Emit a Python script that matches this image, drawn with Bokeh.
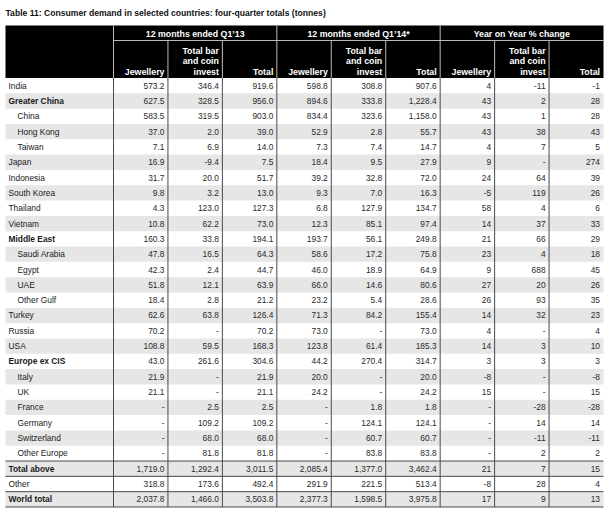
from bokeh.plotting import figure
from bokeh.models import ColumnDataSource, Range1d
from bokeh.core.properties import value
from bokeh.embed import file_html
from bokeh.resources import INLINE

title = "Table 11: Consumer demand in selected countries: four-quarter totals (tonnes)"
groups = ["12 months ended Q1\u201913", "12 months ended Q1\u201914*", "Year on Year % change"]
subheads = ["Jewellery", "Total bar\nand coin\ninvest", "Total"]

labels = ["India", "Greater China", "China", "Hong Kong", "Taiwan", "Japan", "Indonesia",
          "South Korea", "Thailand", "Vietnam", "Middle East", "Saudi Arabia", "Egypt", "UAE",
          "Other Gulf", "Turkey", "Russia", "USA", "Europe ex CIS", "Italy", "UK", "France",
          "Germany", "Switzerland", "Other Europe", "Total above", "Other", "World total"]
bold_rows = ["Greater China", "Middle East", "Europe ex CIS", "Total above", "World total"]
indented_rows = ["China", "Hong Kong", "Taiwan", "Saudi Arabia", "Egypt", "UAE", "Other Gulf",
                 "Italy", "UK", "France", "Germany", "Switzerland", "Other Europe"]

N = None
jewellery_13 = [573.2, 627.5, 583.5, 37.0, 7.1, 16.9, 31.7, 9.8, 4.3, 10.8, 160.3, 47.8, 42.3, 51.8,
                18.4, 62.6, 70.2, 108.8, 43.0, 21.9, 21.1, N, N, N, N, 1719.0, 318.8, 2037.8]
barcoin_13 = [346.4, 328.5, 319.5, 2.0, 6.9, -9.4, 20.0, 3.2, 123.0, 62.2, 33.8, 16.5, 2.4, 12.1,
              2.8, 63.8, N, 59.5, 261.6, N, N, 2.5, 109.2, 68.0, 81.8, 1292.4, 173.6, 1466.0]
total_13 = [919.6, 956.0, 903.0, 39.0, 14.0, 7.5, 51.7, 13.0, 127.3, 73.0, 194.1, 64.3, 44.7, 63.9,
            21.2, 126.4, 70.2, 168.3, 304.6, 21.9, 21.1, 2.5, 109.2, 68.0, 81.8, 3011.5, 492.4, 3503.8]
jewellery_14 = [598.8, 894.6, 834.4, 52.9, 7.3, 18.4, 39.2, 9.3, 6.8, 12.3, 193.7, 58.6, 46.0, 66.0,
                23.2, 71.3, 73.0, 123.8, 44.2, 20.0, 24.2, N, N, N, N, 2085.4, 291.9, 2377.3]
barcoin_14 = [308.8, 333.8, 323.6, 2.8, 7.4, 9.5, 32.8, 7.0, 127.9, 85.1, 56.1, 17.2, 18.9, 14.6,
              5.4, 84.2, N, 61.4, 270.4, N, N, 1.8, 124.1, 60.7, 83.8, 1377.0, 221.5, 1598.5]
total_14 = [907.6, 1228.4, 1158.0, 55.7, 14.7, 27.9, 72.0, 16.3, 134.7, 97.4, 249.8, 75.8, 64.9, 80.6,
            28.6, 155.4, 73.0, 185.3, 314.7, 20.0, 24.2, 1.8, 124.1, 60.7, 83.8, 3462.4, 513.4, 3975.8]
jewellery_chg = [4, 43, 43, 43, 4, 9, 24, -5, 58, 14, 21, 23, 9, 27, 26, 14, 4, 14, 3, -8, 15,
                 N, N, N, N, 21, -8, 17]
barcoin_chg = [-11, 2, 1, 38, 7, N, 64, 119, 4, 37, 66, 4, 688, 20, 93, 32, N, 3, 3, N, N,
               -28, 14, -11, 2, 7, 28, 9]
total_chg = [-1, 28, 28, 43, 5, 274, 39, 26, 6, 33, 29, 18, 45, 26, 35, 23, 4, 10, 3, -8, 15,
             -28, 14, -11, 2, 15, 4, 13]

FONT = value("Liberation Sans")

def fmt_t(v):
    return "-" if v is None else f"{v:,.1f}"

def fmt_p(v):
    return "-" if v is None else f"{v:d}"

columns = [(jewellery_13, fmt_t), (barcoin_13, fmt_t), (total_13, fmt_t),
           (jewellery_14, fmt_t), (barcoin_14, fmt_t), (total_14, fmt_t),
           (jewellery_chg, fmt_p), (barcoin_chg, fmt_p), (total_chg, fmt_p)]

# layout (table coordinates)
X0, XL, XR = 5, 113, 603
colw = (XR - XL) / 9.0
edges = [XL + k * colw for k in range(10)]
HT, HM, HB = 25, 40, 77.5
rowh = (506.5 - HB) / len(labels)
tops = [HB + i * rowh for i in range(len(labels))]
mids = [t + rowh / 2 for t in tops]

p = figure(width=609, height=513, output_backend="svg", toolbar_location=None,
           x_range=Range1d(0, 609), y_range=Range1d(513, 0), min_border=0)
p.axis.visible = False
p.grid.visible = False
p.outline_line_color = None
p.background_fill_color = "white"
p.border_fill_color = "white"

# title
p.text(x=[X0], y=[12.5], text=[title], text_font=FONT, text_font_size="8.6px",
       text_font_style="bold", text_baseline="middle", text_color="#111111")

# header background
p.quad(left=[X0], right=[XR], top=[HT], bottom=[HB], fill_color="black", line_color=None)
# header separators
p.segment(x0=[edges[0], edges[3], edges[6]], y0=[HT] * 3, x1=[edges[0], edges[3], edges[6]],
          y1=[HB] * 3, line_color="#bbbbbb", line_width=1)
p.segment(x0=[XL], y0=[HM], x1=[XR], y1=[HM], line_color="#bbbbbb", line_width=1)
sub_x = [edges[k] for k in (1, 2, 4, 5, 7, 8)]
p.segment(x0=sub_x, y0=[HM] * 6, x1=sub_x, y1=[HB] * 6, line_color="#bbbbbb", line_width=1)

# group titles
gx = [(edges[3 * g] + edges[3 * g + 3]) / 2 for g in range(3)]
p.text(x=gx, y=[33.5] * 3, text=groups, text_font=FONT, text_font_size="8.8px",
       text_font_style="bold", text_color="white", text_align="center", text_baseline="middle")
# sub heads
shx, shy, sht = [], [], []
for c in range(9):
    lines = subheads[c % 3].split("\n")
    for j, ln in enumerate(reversed(lines)):
        shx.append(edges[c + 1] - 3.5)
        shy.append(71 - j * 10.5)
        sht.append(ln)
p.text(x=shx, y=shy, text=sht, text_font=FONT, text_font_size="8.8px", text_font_style="bold",
       text_color="white", text_align="right", text_baseline="middle")

# row bands
band_top = [tops[i] for i in range(len(labels)) if i % 2 == 1]
p.quad(left=X0, right=XR, top=band_top, bottom=[t + rowh for t in band_top],
       fill_color="#e6e6e6", line_color=None)

# vertical lines in body
vx = edges[:9]
p.segment(x0=vx, y0=[HB] * 9, x1=vx, y1=[506.5] * 9, line_color="#4a4a4a", line_width=1)
# horizontal lines near totals
hy = [tops[25], tops[26], tops[27], tops[27] + rowh]
p.segment(x0=[X0] * 4, y0=hy, x1=[XR] * 4, y1=hy, line_color="#4a4a4a", line_width=1)

# row labels
lab_src = ColumnDataSource(dict(
    x=[17 if l in indented_rows else 8 for l in labels],
    y=mids, text=labels,
    style=["bold" if l in bold_rows else "normal" for l in labels]))
p.text(x="x", y="y", text="text", source=lab_src, text_font=FONT, text_font_size="8.4px",
       text_font_style="style", text_color="#1a1a1a", text_baseline="middle")

# values
vx_, vy_, vt_ = [], [], []
for c, (vals, f) in enumerate(columns):
    for i, v in enumerate(vals):
        vx_.append(edges[c + 1] - 3.5)
        vy_.append(mids[i])
        vt_.append(f(v))
p.text(x=vx_, y=vy_, text=vt_, text_font=FONT, text_font_size="8.4px", text_color="#2a2a2a",
       text_align="right", text_baseline="middle")

open("out.html", "w").write(file_html(p, INLINE))
